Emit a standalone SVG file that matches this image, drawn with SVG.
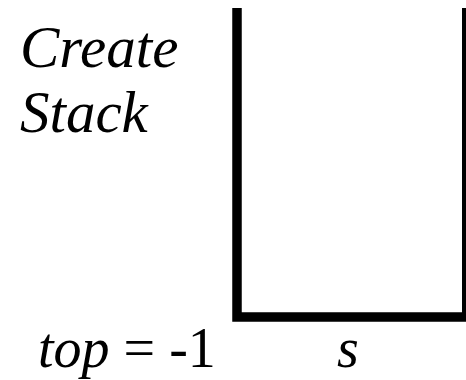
<svg xmlns="http://www.w3.org/2000/svg" width="466" height="380" viewBox="0 0 466 380">
<style>
text{font-family:'Liberation Serif','Times New Roman',serif;font-size:56px;fill:#000}
.i{font-style:italic}
.h{font-size:59px}
</style>
<rect width="466" height="380" fill="#fff"/>
<g id="stack">
<path d="M237 8 V317 H466.75 V8" fill="none" stroke="#000" stroke-width="9.5" stroke-linejoin="miter"/>
</g>
<g id="title">
<text class="i h" x="20" y="67">Create</text>
<text class="i h" x="20" y="132">Stack</text>
</g>
<g id="labels">
<text x="38" y="367"><tspan class="i">top</tspan> = -1</text>
<text class="i" x="337" y="367">s</text>
</g>
</svg>
